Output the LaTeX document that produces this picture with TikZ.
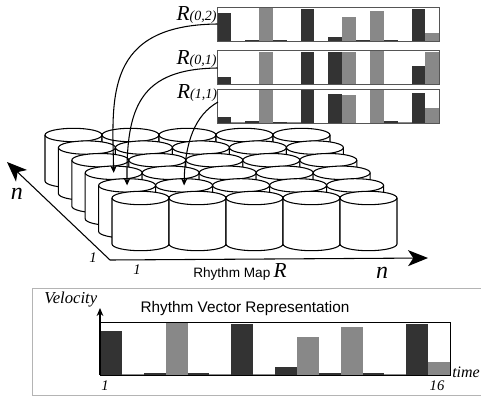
\documentclass[tikz,border=0pt]{standalone}
\usepackage{fontspec}
\setmainfont{Liberation Serif}
\setsansfont{Liberation Sans}
\newfontfamily\timesit{Liberation Serif}[ItalicFont={* Italic}]
\usetikzlibrary{arrows.meta}
\definecolor{barA}{HTML}{333333}
\definecolor{barB}{HTML}{888888}
\definecolor{frame}{HTML}{555555}
\definecolor{panelline}{HTML}{B4B4B4}
\newcommand\rmapname[1]{{\fontsize{16}{16}\selectfont R}{\fontsize{10.5}{11}\selectfont #1}}
\tikzset{
  cyl/.style={draw=black, fill=white, line width=0.8pt},
  chartframe/.style={draw=frame, line width=0.75pt},
  axisarrow/.style={-{Stealth[length=15pt,width=12pt,inset=4pt]}, line width=0.8pt},
  pickarrow/.style={-{Stealth[length=5.5pt,width=5pt]}, line width=0.8pt},
  rlabel/.style={inner sep=0.5pt, font=\timesit\itshape},
  axislabel/.style={inner sep=0pt, font={\fontsize{18}{18}\selectfont\timesit\itshape}},
  ticklabel/.style={inner sep=0pt, font={\fontsize{11}{12}\selectfont\timesit\itshape}},
  caption/.style={inner sep=0pt, font={\fontsize{11.5}{13}\selectfont\sffamily}}
}
\begin{document}
\begin{tikzpicture}[x=0.75pt,y=0.75pt]
  \useasboundingbox (0,0) rectangle (481,397);
  % cylinder grid, back rows first
  \foreach \r in {0,...,5} {
    \foreach \i in {0,...,4} {
      \pgfmathsetmacro\cx{73.5+13.4*\r+57*\i}
      \pgfmathsetmacro\cy{262-12.6*\r}
      \pgfmathtruncatemacro\j{5-\r}
      \coordinate (c-\i-\j) at (\cx,\cy);
      \draw[cyl] ({\cx-28.5},\cy) -- ++(0,-46)
        arc[start angle=180,end angle=360,x radius=28.5,y radius=6.7] -- ++(0,46)
        arc[start angle=0,end angle=180,x radius=28.5,y radius=6.7] -- cycle;
      \draw[cyl,fill=none] ({\cx-28.5},\cy)
        arc[start angle=180,end angle=360,x radius=28.5,y radius=6.7];
    }
  }
  % axes of the map
  \coordinate (orig) at (110,137);
  \coordinate (xend) at (428,139);
  \coordinate (yend) at (7,235);
  \draw[axisarrow] (orig) -- (xend);
  \draw[axisarrow] (orig) -- (yend);
  \node[axislabel] (nleft) at (17,203) {n};
  \node[axislabel] (nright) at (382,124) {n};
  \node[ticklabel] (onel) at (93,139) {1};
  \node[ticklabel] (oneb) at (137,127) {1};
  \node[inner sep=0pt] (mapname) at (240,125)
    {{\fontsize{10.2}{12}\selectfont\sffamily Rhythm Map} {\fontsize{16}{16}\selectfont\timesit\itshape R}};
  % three stored vectors
  \foreach \cx/\cy/\vals in {
      217.3/355.7/{0.82,0.02,0.03,1.0,0.03,0.02,0.95,0.01,0.14,0.70,0.03,0.90,0.03,0.02,0.95,0.25},
      217.3/312.3/{0.23,0.01,0.03,0.97,0.03,0.01,0.97,0.01,0.97,0.97,0.03,1.0,0.03,0.02,0.56,0.95},
      217.3/273.7/{0.18,0.04,0.08,0.98,0.05,0.05,0.98,0.01,0.85,0.83,0.02,1.0,0.06,0.05,0.88,0.44}} {
    \foreach \v [count=\k] in \vals {
      \ifodd\k\relax\def\bc{barA}\else\def\bc{barB}\fi
      \fill[\bc] ({\cx+(\k-1)*222/16},\cy) rectangle ++({222/16},{\v*34});
    }
    \draw[chartframe] (\cx,\cy) rectangle ++(222,34);
  }
  \node[rlabel, anchor=south east] (r02) at (217.5,373) {\rmapname{(0,2)}};
  \node[rlabel, anchor=south east] (r01) at (217.5,329) {\rmapname{(0,1)}};
  \node[rlabel, anchor=south east] (r11) at (218,295) {\rmapname{(1,1)}};
  \draw[pickarrow] (r02.south east) .. controls (105,372) and (112,300) .. (c-0-2);
  \draw[pickarrow] (r01.south east) .. controls (140,328) and (126,290) .. (c-0-1);
  \draw[pickarrow] (r11.south east) .. controls (195,282) and (185,255) .. (c-1-1);
  % lower panel: one rhythm vector
  \draw[panelline, line width=0.75pt] (32,2) rectangle (482,109);
  \foreach \v [count=\k] in {0.83,0.02,0.03,1.0,0.03,0.02,0.96,0.01,0.15,0.71,0.03,0.91,0.03,0.02,0.96,0.25} {
    \ifodd\k\relax\def\bc{barA}\else\def\bc{barB}\fi
    \fill[\bc] ({100+(\k-1)*350/16},22) rectangle ++({350/16},{\v*53});
  }
  \coordinate (vorig) at (100,22);
  \coordinate (vtop) at (100,89);
  \draw[line width=0.75pt] (vorig) -- (450,22) -- (450,75) -- (100,75);
  \draw[-{Stealth[length=6pt,width=5pt]}, line width=0.8pt] (vorig) -- (vtop);
  \node[inner sep=0pt, anchor=east, font={\fontsize{12.5}{14}\selectfont\timesit\itshape}] (vel) at (97.5,97) {Velocity};
  \node[caption] (title) at (245,88.5) {Rhythm Vector Representation};
  \node[ticklabel] (tfirst) at (105,11) {1};
  \node[ticklabel] (tlast) at (437,11) {16};
  \node[inner sep=0pt, anchor=west, font={\fontsize{12}{14}\selectfont\timesit\itshape}] (tm) at (452,25) {time};
\end{tikzpicture}
\end{document}
